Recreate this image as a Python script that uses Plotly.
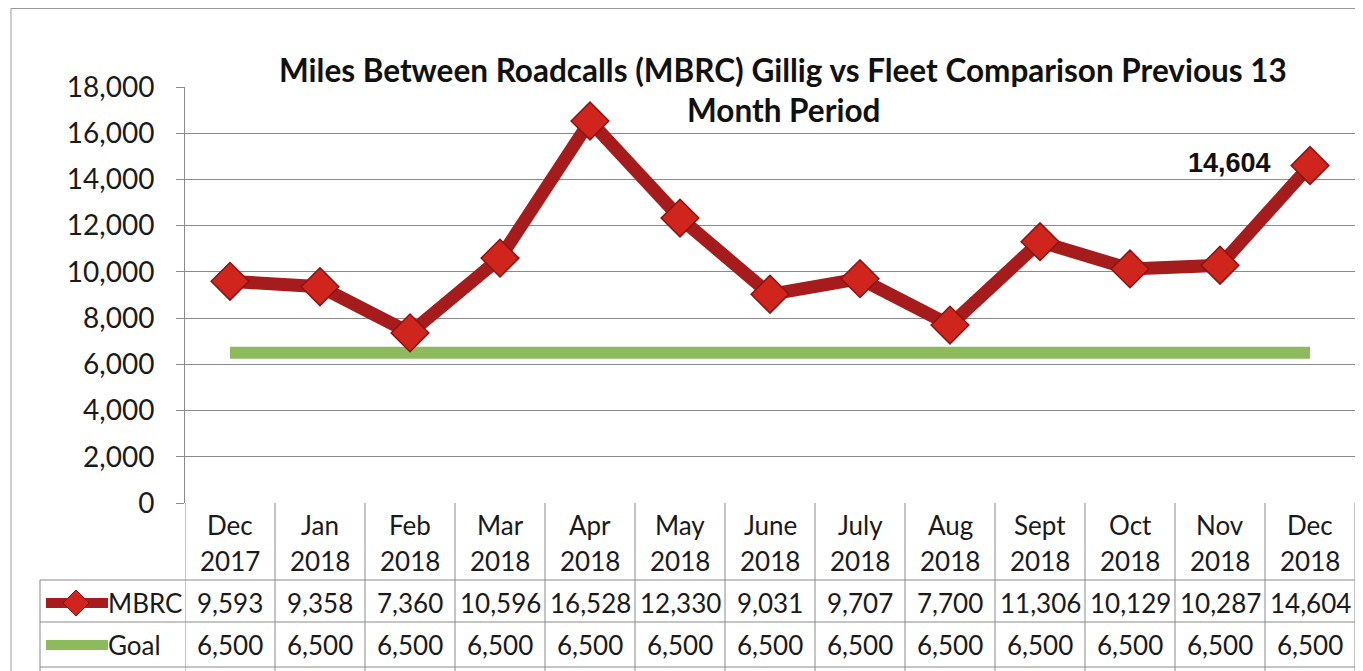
import plotly.graph_objects as go

months = ["Dec<br>2017", "Jan<br>2018", "Feb<br>2018", "Mar<br>2018", "Apr<br>2018", "May<br>2018",
          "June<br>2018", "July<br>2018", "Aug<br>2018", "Sept<br>2018", "Oct<br>2018", "Nov<br>2018", "Dec<br>2018"]
mbrc = [9593, 9358, 7360, 10596, 16528, 12330, 9031, 9707, 7700, 11306, 10129, 10287, 14604]
goal = [6500] * 13
yticks = [0, 2000, 4000, 6000, 8000, 10000, 12000, 14000, 16000, 18000]

OFF = 8  # page body margin
W, H = 1363 - OFF, 671 - OFF
# plot area in page pixels: x 185..1355, y 87..503
L, T = 185 - OFF, 87 - OFF
R = W - (1355 - OFF)
B = H - (503 - OFF)
PW, PH = W - L - R, H - T - B

def py(p):  # page pixel y -> paper y
    return (503 - p) / PH

def px(p):  # page pixel x -> paper x
    return (p - 185) / PW

FONT = "Lato, Carlito, Calibri, sans-serif"
RED_LINE = "#A61B1B"
RED_MARK = "#D0251D"
GREEN = "#8DBA5C"
GRID = "#8a8a8a"

idx = list(range(len(months)))

fig = go.Figure()
fig.add_trace(go.Scatter(x=idx, y=goal, mode="lines", name="Goal",
                         line=dict(color=GREEN, width=12), hoverinfo="skip"))
fig.add_trace(go.Scatter(x=idx, y=mbrc, mode="lines+markers", name="MBRC",
                         line=dict(color=RED_LINE, width=13),
                         marker=dict(symbol="diamond", size=29, color=RED_MARK,
                                     line=dict(color="#8E1212", width=1.5))))

shapes = []
ann = []

# outer frame
shapes.append(dict(type="rect", xref="paper", yref="paper", x0=px(11), x1=px(1356), y0=py(680), y1=py(8.5),
                   line=dict(color="#9a9a9a", width=1), fillcolor="rgba(0,0,0,0)", layer="below"))
# table vertical lines
for i in range(len(months) + 1):
    shapes.append(dict(type="line", xref="x", yref="paper", x0=i - 0.5, x1=i - 0.5,
                       y0=py(503), y1=py(680), line=dict(color=GRID, width=1)))
# label column left border
shapes.append(dict(type="line", xref="paper", yref="paper", x0=px(40), x1=px(40),
                   y0=py(580), y1=py(680), line=dict(color=GRID, width=1)))
# table horizontal lines
for yy in [580, 622, 667]:
    shapes.append(dict(type="line", xref="paper", yref="paper", x0=px(40), x1=1,
                       y0=py(yy), y1=py(yy), line=dict(color=GRID, width=1)))
# legend keys
shapes.append(dict(type="line", xref="paper", yref="paper", x0=px(46), x1=px(108),
                   y0=py(603), y1=py(603), line=dict(color=RED_LINE, width=10)))
d = 13
cx, cy = 76, 603
shapes.append(dict(type="path", xref="paper", yref="paper",
                   path=f"M {px(cx)} {py(cy-d)} L {px(cx+d)} {py(cy)} L {px(cx)} {py(cy+d)} L {px(cx-d)} {py(cy)} Z",
                   fillcolor=RED_MARK, line=dict(color="#8E1212", width=1)))
shapes.append(dict(type="line", xref="paper", yref="paper", x0=px(46), x1=px(108),
                   y0=py(645), y1=py(645), line=dict(color=GREEN, width=10)))

tf = dict(family=FONT, size=26, color="#1a1a1a")
for i, m in enumerate(months):
    top, bot = m.split("<br>")
    for txt, yy in [(top, 525), (bot, 561), (f"{mbrc[i]:,}", 603), (f"{goal[i]:,}", 645)]:
        ann.append(dict(x=i, y=py(yy), xref="x", yref="paper", text=txt, showarrow=False,
                        xanchor="center", yanchor="middle", font=tf))
for txt, yy in [("MBRC", 603), ("Goal", 645)]:
    ann.append(dict(x=px(106), y=py(yy), xref="paper", yref="paper", text=txt, showarrow=False,
                    xanchor="left", yanchor="middle", font=tf))

# title
for txt, yy in [("Miles Between Roadcalls (MBRC) Gillig vs Fleet Comparison Previous 13", 70),
                ("Month Period", 110)]:
    ann.append(dict(x=px(783), y=py(yy), xref="paper", yref="paper", showarrow=False,
                    xanchor="center", yanchor="middle", text=f"<b>{txt}</b>",
                    font=dict(family=FONT, size=31.5, color="#111")))

# data label
ann.append(dict(x=len(months) - 1, y=mbrc[-1], xref="x", yref="y", text=f"<b>{mbrc[-1]:,}</b>",
                showarrow=False, xanchor="right", yanchor="middle", xshift=-37, yshift=2,
                font=dict(family="Liberation Sans, Arial, sans-serif", size=27, color="#111")))

fig.update_layout(
    width=W, height=H,
    margin=dict(l=L, r=R, t=T, b=B),
    paper_bgcolor="white", plot_bgcolor="white",
    showlegend=False,
    shapes=shapes, annotations=ann,
    xaxis=dict(range=[-0.5, len(months) - 0.5], showticklabels=False, showgrid=False,
               zeroline=False, showline=False, ticks=""),
    yaxis=dict(range=[0, 18000], tickvals=yticks, tickformat=",d", showgrid=True,
               gridcolor=GRID, gridwidth=1, zeroline=False, showline=True, linecolor=GRID,
               ticks="outside", ticklen=8, tickcolor=GRID, ticklabelstandoff=16,
               tickfont=dict(family=FONT, size=28, color="#1a1a1a")),
)

fig.write_html("out.html")
